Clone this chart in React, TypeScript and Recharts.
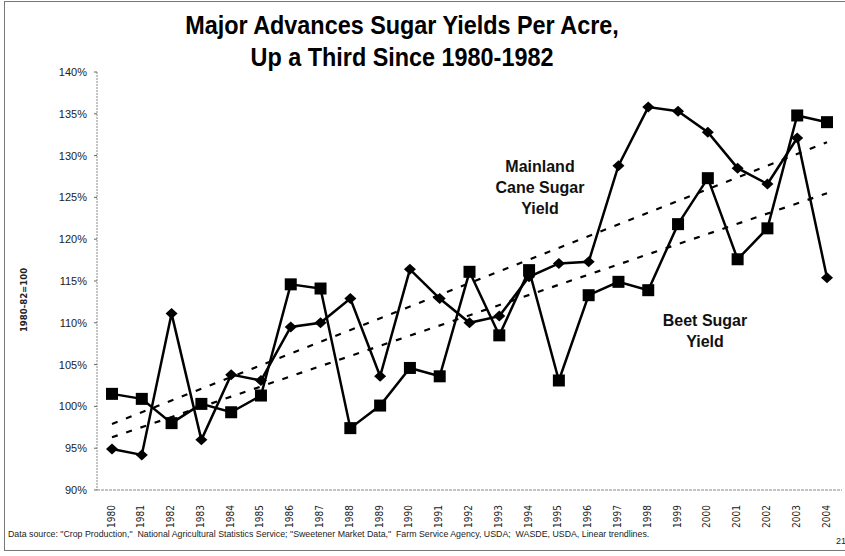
import React from 'react';
import { LineChart, Line, XAxis, YAxis, ReferenceLine } from 'recharts';

const years = ['1980','1981','1982','1983','1984','1985','1986','1987','1988','1989','1990','1991','1992','1993','1994','1995','1996','1997','1998','1999','2000','2001','2002','2003','2004'];
const caneYield = [94.9, 94.2, 111.1, 96.0, 103.8, 103.1, 109.5, 110.0, 112.9, 103.6, 116.4, 112.9, 110.0, 110.8, 115.5, 117.1, 117.3, 128.8, 135.8, 135.3, 132.8, 128.5, 126.6, 132.1, 115.4];
const beetYield = [101.5, 100.9, 98.0, 100.3, 99.3, 101.3, 114.6, 114.1, 97.4, 100.1, 104.6, 103.6, 116.1, 108.5, 116.3, 103.1, 113.3, 114.9, 113.9, 121.8, 127.3, 117.6, 121.3, 134.8, 134.0];
const caneTrend = [97.9, 131.6];
const beetTrend = [96.3, 125.5];
const yTicks = [90, 95, 100, 105, 110, 115, 120, 125, 130, 135, 140];

const titleLines = ['Major Advances Sugar Yields Per Acre,', 'Up a Third Since 1980-1982'];
const caneLabel = ['Mainland', 'Cane Sugar', 'Yield'];
const beetLabel = ['Beet Sugar', 'Yield'];
const yLabel = '1980-82=100';
const footer = 'Data source: "Crop Production,"  National Agricultural Statistics Service; "Sweetener Market Data,"  Farm Service Agency, USDA;  WASDE, USDA, Linear trendlines.';
const pageNo = '21';

const data = years.map((y, i) => ({ year: y, cane: caneYield[i], beet: beetYield[i] }));

const ARIAL = 'Arial, "Liberation Sans", Helvetica, sans-serif';
const NARROW = '"Liberation Sans Narrow", "Arial Narrow", "DejaVu Sans Condensed", Arial, sans-serif';

const Diamond = (props: any) => {
  const { cx, cy, index } = props;
  if (cx == null || cy == null) return <g key={`dn-${index}`} />;
  return (
    <polygon
      key={`d-${index}`}
      points={`${cx},${cy - 5.5} ${cx + 6},${cy} ${cx},${cy + 5.5} ${cx - 6},${cy}`}
      fill="#000"
    />
  );
};

const Square = (props: any) => {
  const { cx, cy, index } = props;
  if (cx == null || cy == null) return <g key={`sn-${index}`} />;
  return <rect key={`s-${index}`} x={cx - 6} y={cy - 6} width={12} height={12} fill="#000" />;
};

const YearTick = (props: any) => {
  const { x, y, payload } = props;
  return (
    <g transform={`translate(${x - 1},${y + 7})`}>
      <text
        transform="rotate(-90)"
        textAnchor="end"
        dy="0.35em"
        fontSize={10}
        fontFamily={NARROW}
        fill="#222"
      >
        {payload.value}
      </text>
    </g>
  );
};

export default function App() {
  return (
    <div style={{ position: 'absolute', left: 0, top: 0, width: 845, height: 556, background: '#fff' }}>
      <LineChart
        width={845}
        height={556}
        data={data}
        margin={{ top: 72, right: 3, left: 37, bottom: 26 }}
      >
        <XAxis
          dataKey="year"
          height={40}
          padding={{ left: 15, right: 15 }}
          interval={0}
          tickLine={false}
          axisLine={{ stroke: '#888', strokeDasharray: '3 1' }}
          tick={<YearTick />}
        />
        <YAxis
          width={60}
          domain={[90, 140]}
          ticks={yTicks}
          allowDataOverflow
          tickFormatter={(v: number) => `${v}%`}
          tickSize={3}
          tickMargin={7}
          tickLine={{ stroke: '#666' }}
          axisLine={{ stroke: '#888', strokeDasharray: '2 1' }}
          tick={{ fontSize: 11, fontFamily: ARIAL, fill: '#222' }}
        />
        <ReferenceLine
          segment={[{ x: years[0], y: caneTrend[0] }, { x: years[years.length - 1], y: caneTrend[1] }]}
          stroke="#000"
          strokeWidth={2.2}
          strokeDasharray="6 9"
        />
        <ReferenceLine
          segment={[{ x: years[0], y: beetTrend[0] }, { x: years[years.length - 1], y: beetTrend[1] }]}
          stroke="#000"
          strokeWidth={2.2}
          strokeDasharray="6 9"
        />
        <Line
          type="linear"
          dataKey="cane"
          stroke="#000"
          strokeWidth={2.5}
          dot={Diamond}
          activeDot={false}
          isAnimationActive={false}
        />
        <Line
          type="linear"
          dataKey="beet"
          stroke="#000"
          strokeWidth={2.5}
          dot={Square}
          activeDot={false}
          isAnimationActive={false}
        />
      </LineChart>
      <svg
        width={845}
        height={556}
        style={{ position: 'absolute', left: 0, top: 0, pointerEvents: 'none' }}
      >
        <rect x={4.5} y={1.5} width={860} height={549} fill="none" stroke="#777" strokeWidth={1} />
        {titleLines.map((t, i) => (
          <text
            key={t}
            transform={`translate(402,${34 + i * 32}) scale(0.9,1)`}
            textAnchor="middle"
            fontSize={26}
            fontWeight="bold"
            fontFamily={ARIAL}
            fill="#000"
          >
            {t}
          </text>
        ))}
        {caneLabel.map((t, i) => (
          <text
            key={t}
            x={540}
            y={172 + i * 21}
            textAnchor="middle"
            fontSize={16}
            fontWeight="bold"
            fontFamily={ARIAL}
            fill="#111"
          >
            {t}
          </text>
        ))}
        {beetLabel.map((t, i) => (
          <text
            key={t}
            x={705}
            y={326 + i * 21}
            textAnchor="middle"
            fontSize={16}
            fontWeight="bold"
            fontFamily={ARIAL}
            fill="#111"
          >
            {t}
          </text>
        ))}
        <text
          transform="translate(27,300) rotate(-90)"
          textAnchor="middle"
          fontSize={9.5}
          fontWeight="bold"
          fontFamily={NARROW}
          fill="#222"
        >
          {yLabel}
        </text>
        <text x={8} y={537} fontSize={8.8} fontFamily={ARIAL} fill="#222" style={{ whiteSpace: 'pre' }}>
          {footer}
        </text>
        <text x={836} y={544} fontSize={9} fontFamily={ARIAL} fill="#222">
          {pageNo}
        </text>
      </svg>
    </div>
  );
}
